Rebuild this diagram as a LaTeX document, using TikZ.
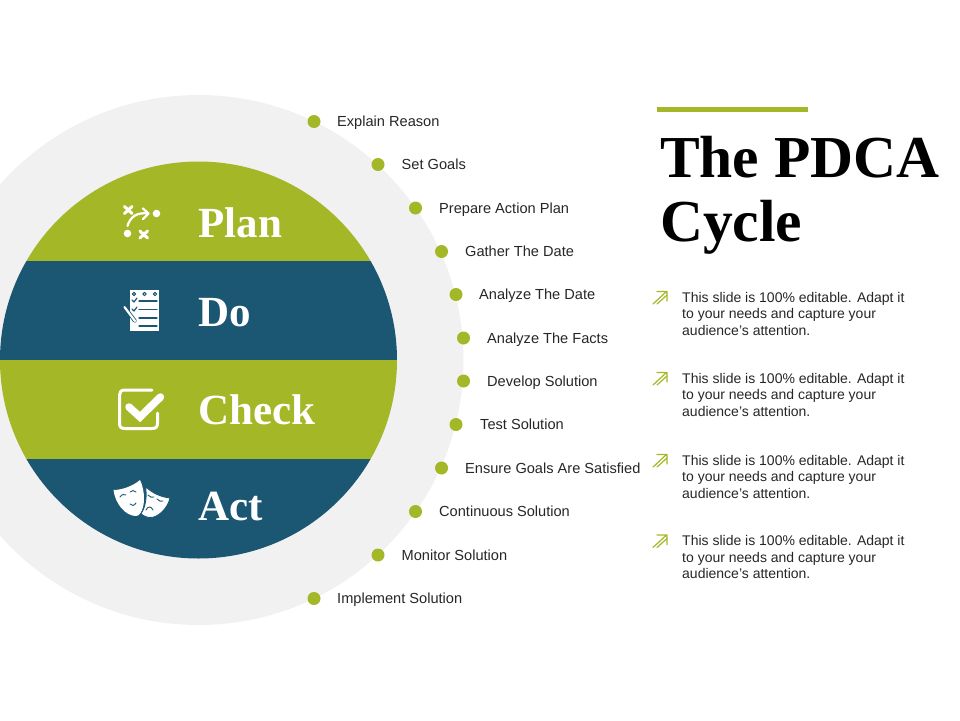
\documentclass[tikz,border=0pt]{standalone}
\usepackage{fontspec}
\setmainfont{Liberation Sans}
\newfontfamily\titlefont{Liberation Serif}
\usepackage{xcolor}
\definecolor{leaf}{HTML}{A4B727}
\definecolor{deep}{HTML}{1B5673}
\definecolor{halo}{HTML}{F1F1F1}
\definecolor{ink}{HTML}{262626}
\tikzset{
  dot/.style={circle,fill=leaf,minimum size=13pt,inner sep=0pt},
  item/.style={anchor=base west,inner sep=0pt,text=ink,font=\fontsize{14.6}{17}\selectfont},
  band/.style={anchor=base west,inner sep=0pt,text=white,font=\titlefont\bfseries\fontsize{43}{43}\selectfont},
  head/.style={anchor=base west,inner sep=0pt,text=black,font=\titlefont\bfseries\fontsize{59.5}{60}\selectfont},
  note/.style={anchor=north west,inner sep=0pt,text=ink,align=left,font=\fontsize{14}{16.4}\selectfont},
  icon/.style={white,line width=3pt,line cap=round,line join=round},
}
\begin{document}
\begin{tikzpicture}[line cap=round,line join=round,x=1pt,y=-1pt]
    \useasboundingbox (0,0) rectangle (960,720);

    % circles and bands
    \fill [halo] (198.5,360) circle (265);
    \begin{scope}
        \clip (198.5,360) circle (198.5);
        \fill [leaf] (-10,161) rectangle (400,261);
        \fill [deep] (-10,261) rectangle (400,360);
        \fill [leaf] (-10,360) rectangle (400,459);
        \fill [deep] (-10,459) rectangle (400,559);
    \end{scope}

    \node [band] (plan) at (198.5,237) {Plan};
    \node [band] (do) at (198.5,326) {Do};
    \node [band] (check) at (198.5,424) {Check};
    \node [band] (act) at (198.5,520) {Act};

    % plan icon
    \draw [icon] (124.5,206.5) -- (132,213.5) (132,206.5) -- (124.5,213.5);
    \draw [icon] (140,231) -- (147.5,238) (147.5,231) -- (140,238);
    \fill [white] (156.5,213.5) circle (3.8) (127.5,233.5) circle (3.8);
    \draw [white,line width=2.2pt] (127.5,226) .. controls (130,217) and (137,212) .. (148,213.5);
    \draw [white,line width=2.2pt] (143,208.5) -- (148.5,213.5) -- (143,219);

    % do icon
    \fill [white] (130,290) rectangle (159,331);
    \foreach \ringx in {134,144.5,155}
        \draw [deep,line width=1pt] (\ringx,294) circle (1.7);
    \foreach \liney in {301,309.5,318,326}
        \draw [deep,line width=1.2pt] (139,\liney) -- (157,\liney);
    \foreach \ticky in {300,309}
        \draw [deep,line width=1.2pt] (132,\ticky) -- (134,\ticky+2) -- (137,\ticky-2);
    \draw [deep,line width=3.8pt] (124.5,307) -- (135,321);
    \draw [white,line width=2.2pt] (124.5,307) -- (135,321);

    % check icon
    \draw [icon] (152,390) -- (125,390) .. controls (121,390) and (119.5,392) .. (119.5,395)
        -- (119.5,423) .. controls (119.5,427) and (121,428.5) .. (125,428.5)
        -- (152,428.5) .. controls (156,428.5) and (157.5,427) .. (157.5,423) -- (157.5,413);
    \draw [white,line width=7.5pt,line cap=round,line join=miter] (129,407) -- (140,417) -- (160.5,397);

    % act icon
    \fill [white] (113.5,490) .. controls (122,490) and (133,486) .. (140,480)
        .. controls (144,488) and (145,500) .. (143,507)
        .. controls (142,512) and (139,516) .. (136,516)
        .. controls (125,516) and (115,503) .. (113.5,490) -- cycle;
    \draw [fill=white,draw=deep,line width=0.9pt] (145.5,486.5) .. controls (152,493) and (161,497) .. (170,498)
        .. controls (168,508) and (158,518) .. (150,517.5)
        .. controls (147,517.5) and (143,516) .. (141,513.5)
        .. controls (146,507) and (147,495) .. (145.5,486.5) -- cycle;
    \draw [deep,line width=0.9pt] (120,497) .. controls (122,494) and (124,494) .. (126,495)
        (130,492) .. controls (132,490) and (134,490) .. (136,492)
        (130,504) .. controls (132,506) and (134,506) .. (136,503)
        (148,495) .. controls (150,497) and (152,498) .. (154,497)
        (157,499) .. controls (159,501) and (161,502) .. (163,501)
        (146,510) .. controls (148,506) and (151,506) .. (153,510);

    % list
    \foreach \dotx/\doty/\textx/\itemname/\itemtext in {
        314/121.5/337/explain/Explain Reason,
        378/164.5/401.5/goals/Set Goals,
        415.5/208/439/prepare/Prepare Action Plan,
        441.5/251.5/465/gather/Gather The Date,
        456/294.5/479/analyzedate/Analyze The Date,
        463.5/338/487/analyzefacts/Analyze The Facts,
        463.5/381/487/develop/Develop Solution,
        456/424.5/480/test/Test Solution,
        441.5/468/465/ensure/Ensure Goals Are Satisfied,
        415.5/511.5/439/continuous/Continuous Solution,
        378/555/401.5/monitor/Monitor Solution,
        314/598.5/337/implement/Implement Solution}
    {
        \node [dot] (dot-\itemname) at (\dotx,\doty) {};
        \node [item] (\itemname) at (\textx,\doty+5) {\itemtext};
    }

    % title
    \fill [leaf] (657,107) rectangle (808,112);
    \node [head] (title1) at (660,177) {The PDCA};
    \node [head] (title2) at (660,241) {Cycle};

    % notes
    \foreach \notey/\notename in {292/a,373/b,455/c,535.5/d}
    {
        \node [note] (note-\notename) at (682,\notey) {This slide is 100\% editable. Adapt it\\to your needs and capture your\\audience's attention.};
        \begin{scope}[shift={(0,\notey)}]
            \draw [leaf,line width=1.2pt] (653,12) -- (666.5,-0.5) (657,-0.5) -- (667,-0.5) -- (667,9);
            \draw [leaf,line width=1.2pt] (657,12) -- (667,3);
        \end{scope}
    }
\end{tikzpicture}
\end{document}
